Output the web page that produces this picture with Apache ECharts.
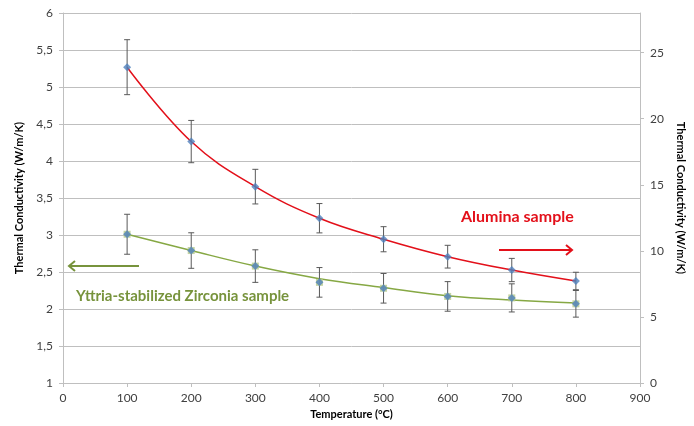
<!DOCTYPE html>
<html>
<head>
<meta charset="utf-8">
<script src="https://cdn.jsdelivr.net/npm/echarts@6/dist/echarts.min.js"></script>
<style>html,body{margin:0;padding:0;background:#fff}#c{width:694px;height:426px}</style>
</head>
<body>
<div id="c"></div>
<script>
// Data
var temperatures = [100, 200, 300, 400, 500, 600, 700, 800];
var aluminaValues = [23.9, 18.27, 14.86, 12.47, 10.88, 9.56, 8.55, 7.72];      // right axis
var aluminaErrors = [2.08, 1.6, 1.31, 1.11, 0.95, 0.86, 0.88, 0.66];
var zirconiaValues = [3.01, 2.79, 2.58, 2.36, 2.28, 2.17, 2.15, 2.07];        // left axis
var zirconiaErrors = [0.27, 0.24, 0.22, 0.2, 0.2, 0.2, 0.19, 0.18];
var zirconiaTrend = [3.01, 2.79, 2.58, 2.41, 2.29, 2.18, 2.12, 2.08];          // trend line
var xTicks = [0, 100, 200, 300, 400, 500, 600, 700, 800, 900];
var leftTicks = [1, 1.5, 2, 2.5, 3, 3.5, 4, 4.5, 5, 5.5, 6];
var rightTicks = [0, 5, 10, 15, 20, 25];

var FONT = 'Lato';
var chart = echarts.init(document.getElementById('c'));

function pairs(xs, ys) { return xs.map(function (x, i) { return [x, ys[i]]; }); }
function errData(xs, ys, es) { return xs.map(function (x, i) { return [x, ys[i] - es[i], ys[i] + es[i]]; }); }

function errRender(params, api) {
  var x = api.value(0);
  var lo = api.coord([x, api.value(1)]);
  var hi = api.coord([x, api.value(2)]);
  var cap = 3;
  var st = { stroke: '#595959', lineWidth: 1 };
  return {
    type: 'group',
    children: [
      { type: 'line', shape: { x1: lo[0], y1: lo[1], x2: hi[0], y2: hi[1] }, style: st },
      { type: 'line', shape: { x1: lo[0] - cap, y1: lo[1], x2: lo[0] + cap, y2: lo[1] }, style: st },
      { type: 'line', shape: { x1: hi[0] - cap, y1: hi[1], x2: hi[0] + cap, y2: hi[1] }, style: st }
    ]
  };
}

var axisLabelStyle = { fontFamily: FONT, fontSize: 12, color: '#404040' };

chart.setOption({
  animation: false,
  grid: { left: 63, right: 54, top: 13, bottom: 43 },
  xAxis: {
    type: 'value', min: xTicks[0], max: xTicks[xTicks.length - 1], interval: 100,
    name: 'Temperature (°C)', nameLocation: 'middle', nameGap: 23,
    nameTextStyle: { fontFamily: FONT, fontSize: 11, fontWeight: 'bold', color: '#000' },
    axisLine: { lineStyle: { color: '#BFBFBF' } },
    axisTick: { show: true, length: 4, lineStyle: { color: '#BFBFBF' } },
    axisLabel: Object.assign({ margin: 9 }, axisLabelStyle),
    splitLine: { show: false }
  },
  yAxis: [
    {
      type: 'value', min: leftTicks[0], max: leftTicks[leftTicks.length - 1], interval: 0.5,
      name: 'Thermal Conductivity (W/m/K)', nameLocation: 'middle', nameGap: 38, nameRotate: 90,
      nameTextStyle: { fontFamily: FONT, fontSize: 11, fontWeight: 'bold', color: '#000' },
      axisLine: { show: true, lineStyle: { color: '#BFBFBF' } },
      axisTick: { show: true, length: 4, lineStyle: { color: '#BFBFBF' } },
      axisLabel: Object.assign({ margin: 10, formatter: function (v) { return String(v).replace('.', ','); } }, axisLabelStyle),
      splitLine: { show: true, lineStyle: { color: '#BFBFBF', width: 1 } }
    },
    {
      type: 'value', min: rightTicks[0], max: 28, interval: 5, position: 'right',
      name: 'Thermal Conductivity (W/m/K)', nameLocation: 'middle', nameGap: 28, nameRotate: -90,
      nameTextStyle: { fontFamily: FONT, fontSize: 11, fontWeight: 'bold', color: '#000' },
      axisLine: { show: true, lineStyle: { color: '#BFBFBF' } },
      axisTick: { show: true, length: 4, lineStyle: { color: '#BFBFBF' } },
      axisLabel: Object.assign({ margin: 10, showMaxLabel: false }, axisLabelStyle),
      splitLine: { show: false }
    }
  ],
  series: [
    {
      type: 'line', yAxisIndex: 1, data: pairs(temperatures, aluminaValues), smooth: 0.4,
      lineStyle: { color: '#E3101A', width: 1.5 }, symbol: 'none', z: 2
    },
    {
      type: 'line', yAxisIndex: 0, data: pairs(temperatures, zirconiaTrend), smooth: 0.4,
      lineStyle: { color: '#86A844', width: 1.5 }, symbol: 'none', z: 2
    },
    { type: 'custom', yAxisIndex: 1, data: errData(temperatures, aluminaValues, aluminaErrors), renderItem: errRender, z: 3 },
    { type: 'custom', yAxisIndex: 0, data: errData(temperatures, zirconiaValues, zirconiaErrors), renderItem: errRender, z: 3 },
    {
      type: 'scatter', yAxisIndex: 0, data: pairs(temperatures, zirconiaValues), symbol: 'rect', symbolSize: 7,
      itemStyle: { color: '#B5C98A' }, z: 4
    },
    {
      type: 'scatter', yAxisIndex: 1, data: pairs(temperatures, aluminaValues), symbol: 'diamond', symbolSize: 8,
      itemStyle: { color: '#4F81BD' }, z: 5
    },
    {
      type: 'scatter', yAxisIndex: 0, data: pairs(temperatures, zirconiaValues), symbol: 'diamond', symbolSize: 8,
      itemStyle: { color: '#4F81BD' }, z: 5
    }
  ],
  graphic: [
    { type: 'text', left: 461, top: 209, style: { text: 'Alumina sample', fill: '#E3101A', font: 'bold 16px ' + FONT } },
    { type: 'line', shape: { x1: 499, y1: 250, x2: 572, y2: 250 }, style: { stroke: '#E3101A', lineWidth: 2 } },
    { type: 'polyline', shape: { points: [[566, 245], [572, 250], [566, 255]] }, style: { stroke: '#E3101A', lineWidth: 2, fill: null } },
    { type: 'line', shape: { x1: 69, y1: 266, x2: 139, y2: 266 }, style: { stroke: '#77933C', lineWidth: 2 } },
    { type: 'polyline', shape: { points: [[75, 261], [69, 266], [75, 271]] }, style: { stroke: '#77933C', lineWidth: 2, fill: null } },
    { type: 'text', left: 76, top: 289, style: { text: 'Yttria-stabilized Zirconia sample', fill: '#77933C', font: 'bold 15px ' + FONT } }
  ]
});
</script>
</body>
</html>
